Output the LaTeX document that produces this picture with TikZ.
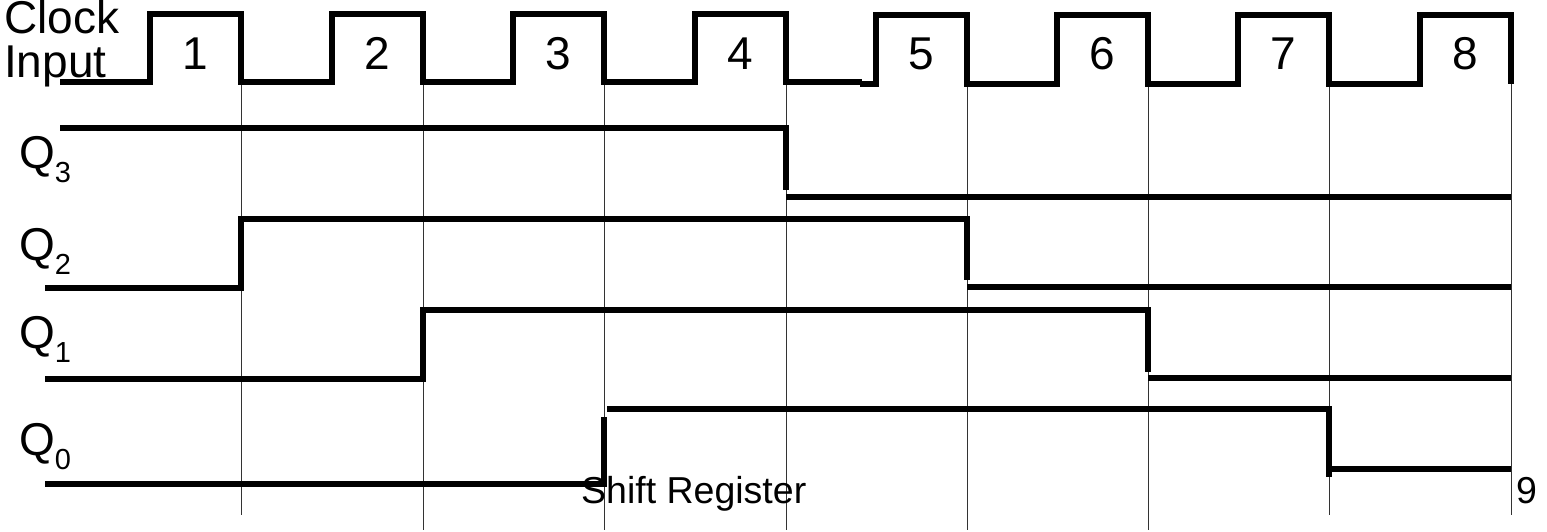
\documentclass[tikz,border=0pt]{standalone}
\usepackage{fontspec}
\setmainfont{Liberation Sans}
\begin{document}
\begin{tikzpicture}[x=1pt,y=-1pt,
  wave/.style={line width=6.5pt, line join=miter},
  gridline/.style={line width=1pt, black!80},
  big/.style={inner sep=0pt, font=\fontsize{46}{46}\selectfont},
  small/.style={inner sep=0pt, anchor=base west, font=\fontsize{37.5}{37.5}\selectfont}]
\useasboundingbox (0,0) rectangle (1547,532);
% grid lines at the falling clock edges
\foreach \x/\e in {241/515, 423/530, 604/530, 786/530, 967/530, 1148/530, 1329/515, 1511/515}
  \draw[gridline] (\x,84) -- (\x,\e);
% clock
\draw[wave] (60,82) -| (150,14) -| (241,82) -| (332,14) -| (423,82) -| (513,14) -| (604,82)
  -| (695,14) -| (786,82) -- (862,82);
\draw[wave] (860,84) -| (876,15) -| (967,84) -| (1057,15) -| (1148,84) -| (1238,15) -| (1329,84)
  -| (1420,15) -| (1511,84);
% outputs
\draw[wave] (60,128) -| (786,190);
\draw[wave] (786,197) -- (1511,197);
\draw[wave] (45,288) -| (241,219) -| (967,280);
\draw[wave] (967,287) -- (1511,287);
\draw[wave] (45,379) -| (423,310) -| (1148,372);
\draw[wave] (1148,378) -- (1511,378);
\draw[wave] (45,484) -- (604,484) -- (604,417);
\draw[wave] (607,409) -| (1329,477);
\draw[wave] (1329,469) -- (1511,469);
% labels
\node[big, anchor=base west] (clk) at (4,34) {Clock};
\node[big, anchor=base west] (inp) at (4,78) {Input};
\foreach \c/\n in {195.5/1, 377.5/2, 558.5/3, 740.5/4, 921.5/5, 1102.5/6, 1283.5/7, 1465.5/8}
  \node[big, anchor=base] (p\n) at (\c,70) {\n};
\foreach \y/\n in {168/3, 260/2, 348/1, 455/0}
  \node[big, anchor=base west] (q\n) at (19,\y) {Q\raisebox{-14pt}{\fontsize{29}{29}\selectfont \n}};
\node[small] (title) at (581,503) {Shift Register};
\node[small] (page) at (1516,503) {9};
\end{tikzpicture}
\end{document}
